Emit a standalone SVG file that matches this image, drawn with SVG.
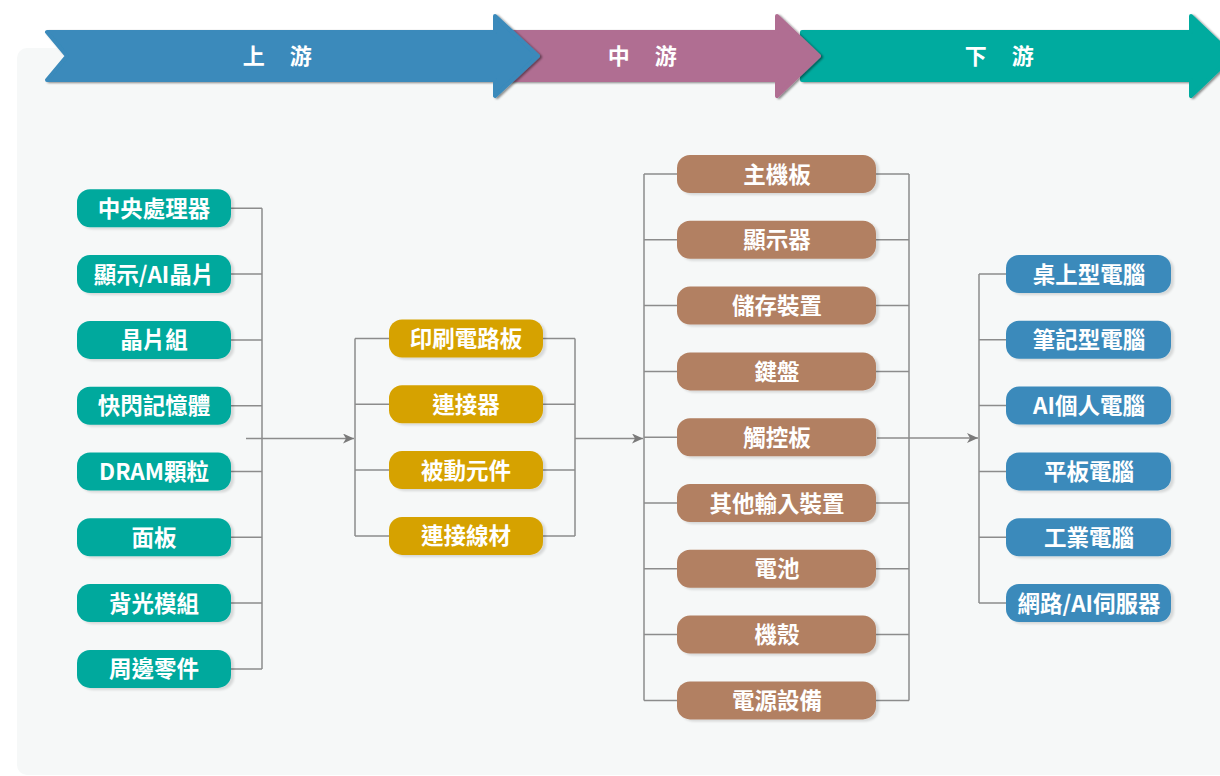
<svg xmlns="http://www.w3.org/2000/svg" width="1220" height="776" viewBox="0 0 1220 776">
<defs>
<filter id="ash" x="-10%" y="-30%" width="130%" height="160%"><feDropShadow dx="2" dy="1" stdDeviation="1.2" flood-color="#000" flood-opacity="0.45"/></filter>
<filter id="nsh" x="-10%" y="-20%" width="130%" height="150%"><feDropShadow dx="3" dy="2" stdDeviation="1" flood-color="#000" flood-opacity="0.13"/></filter>
<marker id="arr" markerUnits="userSpaceOnUse" markerWidth="12" markerHeight="12" refX="11" refY="5" orient="auto"><path d="M0,0 L11,5 L0,10 L3,5 Z" fill="#7a7a7a"/></marker>
<style>
.hd{stroke-linejoin:round;stroke-width:4}
.ht{font-family:"Noto Sans CJK TC","Noto Sans CJK SC",sans-serif;font-weight:bold;font-size:22px;fill:#fff;text-anchor:middle;dominant-baseline:central;letter-spacing:1.5px}
.n rect{filter:url(#nsh)}
.n text{font-family:"Noto Sans CJK TC","Noto Sans CJK SC",sans-serif;font-weight:bold;font-size:22.5px;fill:#fff;text-anchor:middle;dominant-baseline:central}
.t rect{fill:#00a99d}.g rect{fill:#d6a200}.b rect{fill:#b28062}.u rect{fill:#3a8abb}
.c{fill:none;stroke:#8c8c8c;stroke-width:1.5}
</style>
</defs>
<rect x="17" y="48" width="1220" height="727" rx="10" fill="#f6f8f8"/>
<g id="header">
<path class="hd" d="M802,32 H1191 V16 L1233,56 L1191,96 V80 H802 Z" fill="#00ab9f" stroke="#00ab9f" filter="url(#ash)"/>
<path class="hd" d="M502,32 H777 V16 L819,56 L777,96 V80 H502 Z" fill="#b06e92" stroke="#b06e92" filter="url(#ash)"/>
<path class="hd" d="M47,32 H495 V16 L538,56 L495,96 V80 H47 L67,56 Z" fill="#3a8abb" stroke="#3a8abb" filter="url(#ash)"/>
<text class="ht" x="278" y="54">上　游</text>
<text class="ht" x="643" y="54">中　游</text>
<text class="ht" x="1000" y="54">下　游</text>
</g>
<g id="connectors">
<path class="c" d="M231,208.3 H262 M231,274.1 H262 M231,339.9 H262 M231,405.7 H262 M231,471.5 H262 M231,537.3 H262 M231,603.1 H262 M231,668.9 H262 M262,208.3 V668.9"/>
<path class="c" d="M246,438.5 H354" marker-end="url(#arr)"/>
<path class="c" d="M355,338.5 V535.9 M355,338.5 H389 M355,404.3 H389 M355,470.1 H389 M355,535.9 H389"/>
<path class="c" d="M543,338.5 H575 M543,404.3 H575 M543,470.1 H575 M543,535.9 H575 M575,338.5 V535.9"/>
<path class="c" d="M575,438.5 H643" marker-end="url(#arr)"/>
<path class="c" d="M644,174 V700.4 M644,174 H677 M644,239.8 H677 M644,305.6 H677 M644,371.4 H677 M644,437.2 H677 M644,503 H677 M644,568.8 H677 M644,634.6 H677 M644,700.4 H677"/>
<path class="c" d="M876,174 H909 M876,239.8 H909 M876,305.6 H909 M876,371.4 H909 M876,503 H909 M876,568.8 H909 M876,634.6 H909 M876,700.4 H909 M909,174 V700.4"/>
<path class="c" d="M877,438 H978" marker-end="url(#arr)"/>
<path class="c" d="M979,274 V603 M979,274 H1006 M979,339.8 H1006 M979,405.6 H1006 M979,471.4 H1006 M979,537.2 H1006 M979,603 H1006"/>
</g>
<g id="n1" class="n t"><rect x="77" y="189.3" width="154" height="38" rx="13"/><text x="154" y="206.8">中央處理器</text></g>
<g id="n2" class="n t"><rect x="77" y="255.1" width="154" height="38" rx="13"/><text x="154" y="272.6">顯示/AI晶片</text></g>
<g id="n3" class="n t"><rect x="77" y="320.9" width="154" height="38" rx="13"/><text x="154" y="338.4">晶片組</text></g>
<g id="n4" class="n t"><rect x="77" y="386.7" width="154" height="38" rx="13"/><text x="154" y="404.2">快閃記憶體</text></g>
<g id="n5" class="n t"><rect x="77" y="452.5" width="154" height="38" rx="13"/><text x="154" y="470">DRAM顆粒</text></g>
<g id="n6" class="n t"><rect x="77" y="518.3" width="154" height="38" rx="13"/><text x="154" y="535.8">面板</text></g>
<g id="n7" class="n t"><rect x="77" y="584.1" width="154" height="38" rx="13"/><text x="154" y="601.6">背光模組</text></g>
<g id="n8" class="n t"><rect x="77" y="649.9" width="154" height="38" rx="13"/><text x="154" y="667.4">周邊零件</text></g>
<g id="m1" class="n g"><rect x="389" y="319.5" width="154" height="38" rx="13"/><text x="466" y="337">印刷電路板</text></g>
<g id="m2" class="n g"><rect x="389" y="385.3" width="154" height="38" rx="13"/><text x="466" y="402.8">連接器</text></g>
<g id="m3" class="n g"><rect x="389" y="451.1" width="154" height="38" rx="13"/><text x="466" y="468.6">被動元件</text></g>
<g id="m4" class="n g"><rect x="389" y="516.9" width="154" height="38" rx="13"/><text x="466" y="534.4">連接線材</text></g>
<g id="p1" class="n b"><rect x="677" y="155" width="199" height="38" rx="13"/><text x="777" y="172.5">主機板</text></g>
<g id="p2" class="n b"><rect x="677" y="220.8" width="199" height="38" rx="13"/><text x="777" y="238.3">顯示器</text></g>
<g id="p3" class="n b"><rect x="677" y="286.6" width="199" height="38" rx="13"/><text x="777" y="304.1">儲存裝置</text></g>
<g id="p4" class="n b"><rect x="677" y="352.4" width="199" height="38" rx="13"/><text x="777" y="369.9">鍵盤</text></g>
<g id="p5" class="n b"><rect x="677" y="418.2" width="199" height="38" rx="13"/><text x="777" y="435.7">觸控板</text></g>
<g id="p6" class="n b"><rect x="677" y="484" width="199" height="38" rx="13"/><text x="777" y="501.5">其他輸入裝置</text></g>
<g id="p7" class="n b"><rect x="677" y="549.8" width="199" height="38" rx="13"/><text x="777" y="567.3">電池</text></g>
<g id="p8" class="n b"><rect x="677" y="615.6" width="199" height="38" rx="13"/><text x="777" y="633.1">機殼</text></g>
<g id="p9" class="n b"><rect x="677" y="681.4" width="199" height="38" rx="13"/><text x="777" y="698.9">電源設備</text></g>
<g id="d1" class="n u"><rect x="1006" y="255" width="165" height="38" rx="13"/><text x="1089" y="272.5">桌上型電腦</text></g>
<g id="d2" class="n u"><rect x="1006" y="320.8" width="165" height="38" rx="13"/><text x="1089" y="338.3">筆記型電腦</text></g>
<g id="d3" class="n u"><rect x="1006" y="386.6" width="165" height="38" rx="13"/><text x="1089" y="404.1">AI個人電腦</text></g>
<g id="d4" class="n u"><rect x="1006" y="452.4" width="165" height="38" rx="13"/><text x="1089" y="469.9">平板電腦</text></g>
<g id="d5" class="n u"><rect x="1006" y="518.2" width="165" height="38" rx="13"/><text x="1089" y="535.7">工業電腦</text></g>
<g id="d6" class="n u"><rect x="1006" y="584" width="165" height="38" rx="13"/><text x="1089" y="601.5">網路/AI伺服器</text></g>
</svg>
